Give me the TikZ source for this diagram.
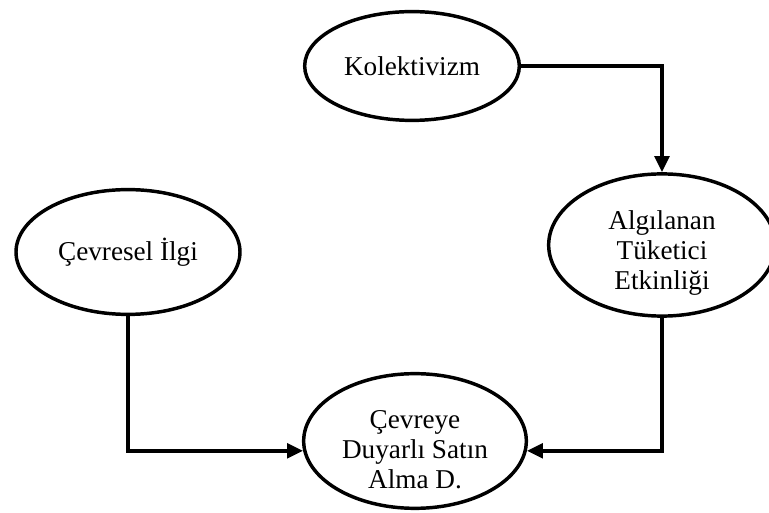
\documentclass[tikz,border=0pt]{standalone}
\usepackage{fontspec}
\setmainfont{Liberation Serif}
\usetikzlibrary{shapes.geometric, arrows.meta, positioning}

\begin{document}
\begin{tikzpicture}[x=0.75pt, y=0.75pt,
    oval/.style={ellipse, draw, line width=2.6pt, inner sep=0pt, align=center,
        font=\fontsize{20.4}{22.5}\selectfont},
    link/.style={line width=2.6pt, -{Triangle[length=12pt, width=11pt]}}]

    % Canvas
    \useasboundingbox (0,0) rectangle (769,-513);

    % --- Constructs ---
    \node[oval, minimum width=161pt, minimum height=81.6pt] (kolektivizm) at (412,-66) {Kolektivizm};
    \node[oval, minimum width=168pt, minimum height=93.6pt] (ilgi) at (128,-252) {Çevresel İlgi};
    \node[oval, minimum width=170pt, minimum height=105.6pt] (etkinlik) at (662,-245) {\rule{0pt}{26pt}Algılanan\\Tüketici\\Etkinliği};
    \node[oval, minimum width=167pt, minimum height=101pt] (satinalma) at (415,-441) {\rule{0pt}{26pt}Çevreye\\Duyarlı Satın\\Alma D.};

    % --- Paths ---
    \draw[link] (kolektivizm.east) -| (etkinlik.north);
    \draw[link] (ilgi.south) |- (satinalma.185);
    \draw[link] (etkinlik.south) |- (satinalma.355);

\end{tikzpicture}
\end{document}
